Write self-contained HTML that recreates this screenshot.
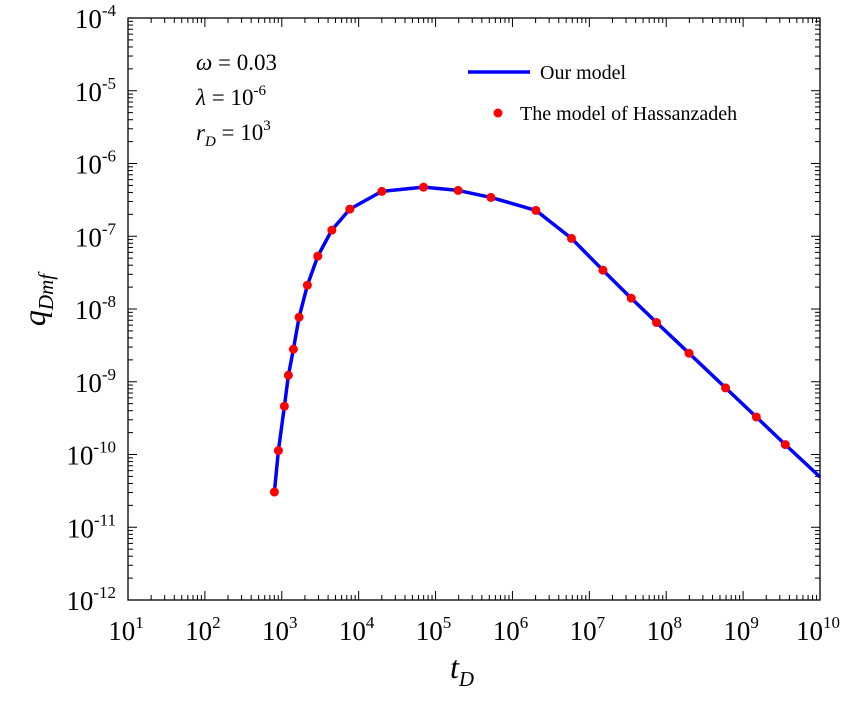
<!DOCTYPE html>
<html><head><meta charset="utf-8"><style>
body{margin:0;background:#fff}
text{font-family:"Liberation Serif",serif;fill:#000}
</style></head><body>
<svg id="chart" width="847" height="700" viewBox="0 0 847 700">
<g id="ticks"></g>
<path id="curve" fill="none" stroke="#0000ff" stroke-width="3.5" stroke-linejoin="round"/>
<g id="dots"></g>
<rect x="128" y="18" width="692" height="582" fill="none" stroke="#000" stroke-width="1.3"/>
<g id="labels"></g>
<g font-size="23">
<text x="196" y="70"><tspan font-style="italic">ω</tspan>  = 0.03</text>
<text x="196" y="105"><tspan font-style="italic">λ</tspan>  = 10<tspan font-size="15" dy="-10">-6</tspan></text>
<text x="196" y="140"><tspan font-style="italic">r</tspan><tspan font-size="15" font-style="italic" dy="6">D</tspan><tspan dy="-6"> = 10</tspan><tspan font-size="15" dy="-10">3</tspan></text>
</g>
<g font-size="20">
<line x1="468" y1="72" x2="530" y2="72" stroke="#0000ff" stroke-width="3.5"/>
<text x="540" y="79">Our model</text>
<circle cx="498" cy="113" r="4.5" fill="#ff0000"/>
<text x="520" y="120">The model of Hassanzadeh</text>
</g>
<text x="0" y="0" transform="translate(45,300) rotate(-90)" text-anchor="middle" font-size="32" font-style="italic">q<tspan font-size="21" dy="8">Dmf</tspan></text>
<text x="462" y="678" text-anchor="middle" font-size="32" font-style="italic">t<tspan font-size="21" dy="8">D</tspan></text>
</svg>
<script>
const xTickExps=[1,2,3,4,5,6,7,8,9,10];
const yTickExps=[-4,-5,-6,-7,-8,-9,-10,-11,-12];
const modelLogT=[2.904,2.956,3.034,3.086,3.151,3.225,3.333,3.468,3.651,3.885,4.301,4.843,5.294,5.720,6.305,6.768,7.177,7.545,7.874,8.296,8.772,9.172,9.549,10.0];
const modelLogQ=[-10.516,-9.946,-9.337,-8.911,-8.553,-8.113,-7.673,-7.274,-6.916,-6.627,-6.384,-6.325,-6.370,-6.466,-6.645,-7.030,-7.466,-7.851,-8.186,-8.608,-9.085,-9.484,-9.864,-10.309];
const pointLogT=[2.904,2.956,3.034,3.086,3.151,3.225,3.333,3.468,3.651,3.885,4.301,4.843,5.294,5.720,6.305,6.768,7.177,7.545,7.874,8.296,8.772,9.172,9.549];
const pointLogQ=[-10.516,-9.946,-9.337,-8.911,-8.553,-8.113,-7.673,-7.274,-6.916,-6.627,-6.384,-6.325,-6.370,-6.466,-6.645,-7.030,-7.466,-7.851,-8.186,-8.608,-9.085,-9.484,-9.864];
const L=128,R=820,T=18,B=600;
const X=e=>L+(e-1)/9*(R-L);
const Y=e=>T+(-4-e)/8*(B-T);
const NS="http://www.w3.org/2000/svg";
function mk(tag,attrs,parent){const el=document.createElementNS(NS,tag);for(const k in attrs)el.setAttribute(k,attrs[k]);parent.appendChild(el);return el;}
const tg=document.getElementById('ticks'),lg=document.getElementById('labels');
for(let d=1;d<=10;d++){for(let m=1;m<10;m++){if(d==10&&m>1)break;const e=d+Math.log10(m);const x=X(e);const len=m==1?9:5;
const t1=mk('line',{x1:x,x2:x,y1:B,y2:B-len,stroke:'#000','stroke-width':1},tg);


const t2=mk('line',{x1:x,x2:x,y1:T,y2:T+len,stroke:'#000','stroke-width':1},tg);

}}
for(let d=-12;d<=-4;d++){for(let m=1;m<10;m++){if(d==-4&&m>1)break;const e=d+Math.log10(m);const y=Y(e);const len=m==1?9:5;
const t1=mk('line',{x1:L,x2:L+len,y1:y,y2:y,stroke:'#000','stroke-width':1},tg);


const t2=mk('line',{x1:R,x2:R-len,y1:y,y2:y,stroke:'#000','stroke-width':1},tg);

}}
xTickExps.forEach(e=>{const t=mk('text',{x:X(e)-2,y:640,'text-anchor':'middle','font-size':27},lg);


t.innerHTML='10<tspan font-size="17" dy="-12">'+e+'</tspan>';});
yTickExps.forEach(e=>{const t=mk('text',{x:116,y:Y(e)+10,'text-anchor':'end','font-size':27},lg);


t.innerHTML='10<tspan font-size="17" dy="-12">'+e+'</tspan>';});
let d='';modelLogT.forEach((t,i)=>{d+=(i?'L':'M')+X(t).toFixed(1)+' '+Y(modelLogQ[i]).toFixed(1);});
document.getElementById('curve').setAttribute('d',d);
const dg=document.getElementById('dots');
pointLogT.forEach((t,i)=>{const c=mk('circle',{cx:X(t),cy:Y(pointLogQ[i]),r:4.5,fill:'#ff0000'},dg);

});
</script>
</body></html>
